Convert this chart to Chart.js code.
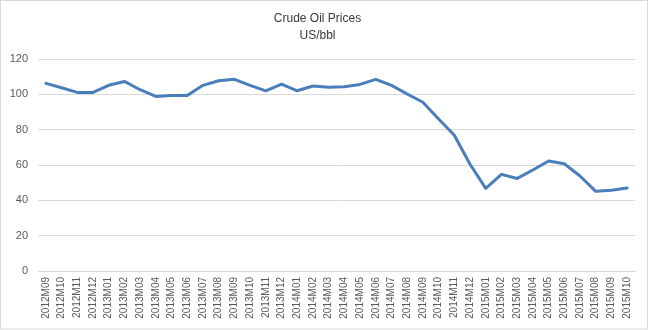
<!DOCTYPE html>
<html>
<head>
<meta charset="utf-8">
<script src="https://cdn.jsdelivr.net/npm/chart.js@4/dist/chart.umd.min.js"></script>
<style>
  html, body { margin: 0; padding: 0; background: #fff; }
  #wrap { position: relative; width: 650px; height: 330px; }
</style>
</head>
<body>
<div id="wrap"><canvas id="oil" width="650" height="330"></canvas></div>
<script>
/* Monatliche Rohölpreise, US-Dollar je Barrel */
const months = [
  "2012M09", "2012M10", "2012M11", "2012M12",
  "2013M01", "2013M02", "2013M03", "2013M04", "2013M05", "2013M06",
  "2013M07", "2013M08", "2013M09", "2013M10", "2013M11", "2013M12",
  "2014M01", "2014M02", "2014M03", "2014M04", "2014M05", "2014M06",
  "2014M07", "2014M08", "2014M09", "2014M10", "2014M11", "2014M12",
  "2015M01", "2015M02", "2015M03", "2015M04", "2015M05", "2015M06",
  "2015M07", "2015M08", "2015M09", "2015M10",
];
const prices = [
  106.2, 103.7, 101.1, 101.1,
  105.1, 107.3, 102.6, 98.8, 99.4, 99.4,
  105.1, 107.7, 108.5, 105.1, 102.0, 105.8,
  102.0, 104.7, 104.0, 104.3, 105.6, 108.5,
  105.1, 100.2, 95.5, 86.0, 76.8, 60.4,
  46.8, 54.7, 52.4, 57.2, 62.3, 60.7,
  53.8, 45.1, 45.7, 47.0,
];
const yTicks = { min: 0, max: 120, step: 20 };

const LINE = "#4a7ebb", GRID = "#d9d9d9", TXT = "#595959";
const FONT = "'Liberation Sans', Arial, sans-serif";

/* Rahmen um die gesamte Grafik */
const frame = {
  id: "frame",
  afterDraw(chart) {
    const ctx = chart.ctx;
    ctx.save();
    ctx.strokeStyle = GRID;
    ctx.lineWidth = 1;
    ctx.strokeRect(0.5, 0.5, chart.width - 3, chart.height - 1.5);
    ctx.restore();
  },
};

new Chart(document.getElementById("oil"), {
  type: "line",
  data: {
    labels: months,
    datasets: [{
      label: "Crude Oil Prices",
      data: prices,
      borderColor: LINE,
      backgroundColor: LINE,
      borderWidth: 3,
      borderJoinStyle: "round",
      borderCapStyle: "round",
      pointRadius: 0,
      tension: 0,
    }],
  },
  options: {
    responsive: false,
    animation: false,
    layout: { padding: { left: 0, right: 15, top: 0, bottom: 0 } },
    plugins: {
      legend: { display: false },
      tooltip: { enabled: false },
      title: {
        display: true,
        text: ["Crude Oil Prices", "US/bbl"],
        color: "#3a3a3a",
        font: { family: FONT, size: 12, weight: "normal", lineHeight: 17 / 12 },
        padding: { top: 10.5, bottom: 14.5 },
      },
    },
    scales: {
      x: {
        offset: true,
        grid: { display: false, drawTicks: false },
        border: { display: true, color: GRID, width: 1 },
        ticks: {
          autoSkip: false,
          minRotation: 90,
          maxRotation: 90,
          padding: 6,
          color: TXT,
          font: { family: FONT, size: 10 },
        },
        afterFit(scale) { scale.height = 59; },
      },
      y: {
        min: yTicks.min,
        max: yTicks.max,
        grid: { color: GRID, drawTicks: false },
        border: { display: false },
        ticks: {
          stepSize: yTicks.step,
          padding: 10,
          color: TXT,
          font: { family: FONT, size: 11 },
        },
        afterFit(scale) { scale.width = 38; },
      },
    },
  },
  plugins: [frame],
});
</script>
</body>
</html>
